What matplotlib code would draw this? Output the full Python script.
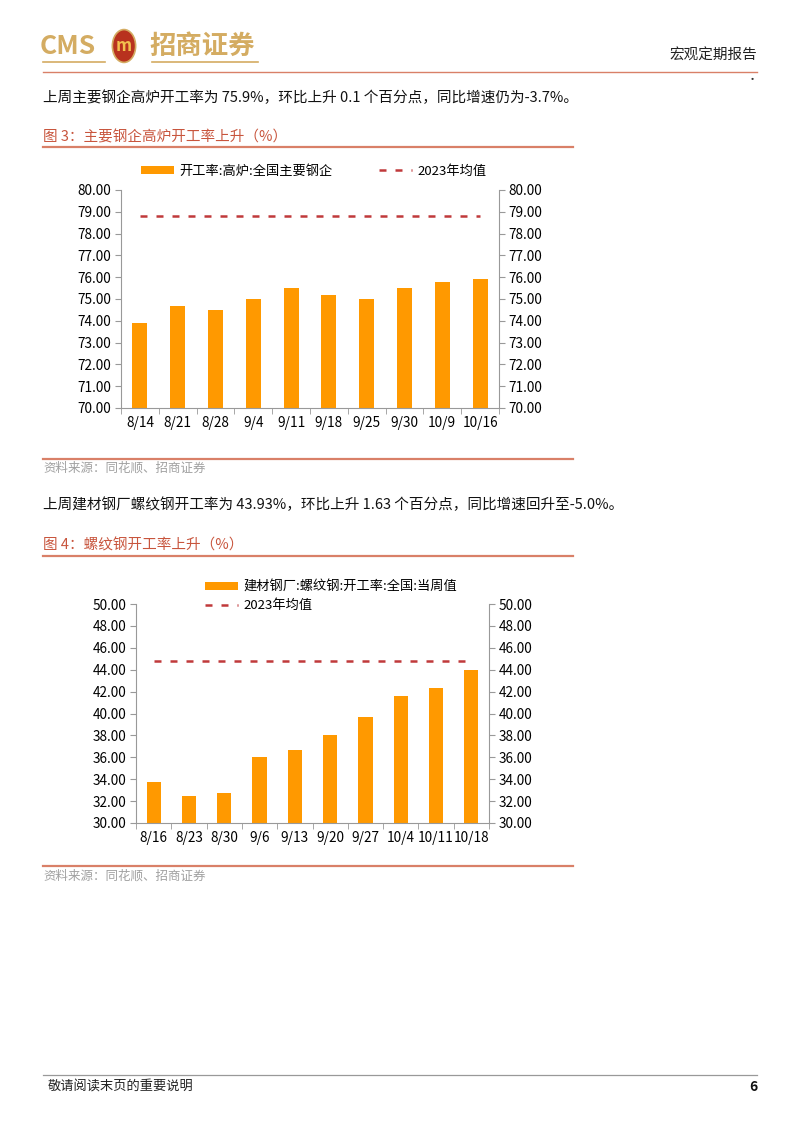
import matplotlib
matplotlib.use("Agg")
import matplotlib.pyplot as plt
from matplotlib.patches import Circle
from matplotlib.lines import Line2D

plt.rcParams['font.family'] = ['Noto Sans CJK SC', 'DejaVu Sans']

W, H = 802, 1133

# chart 3: blast furnace utilisation
dates1 = ["8/14", "8/21", "8/28", "9/4", "9/11", "9/18", "9/25", "9/30", "10/9", "10/16"]
rate1 = [73.9, 74.7, 74.5, 75.0, 75.5, 75.2, 75.0, 75.5, 75.8, 75.9]
avg1 = 78.8
label1 = "开工率:高炉:全国主要钢企"

# chart 4: rebar utilisation
dates2 = ["8/16", "8/23", "8/30", "9/6", "9/13", "9/20", "9/27", "10/4", "10/11", "10/18"]
rate2 = [33.76, 32.44, 32.78, 36.02, 36.69, 38.0, 39.65, 41.6, 42.3, 43.93]
avg2 = 44.8
label2 = "建材钢厂:螺纹钢:开工率:全国:当周值"
avg_label = "2023年均值"

BAR = "#FF9900"
DASH = "#C0393B"
TITLE = "#C8553D"
RULE = "#D98068"
GOLD = "#D4AC62"


def fx(px):
    return px / W


def fy(py):
    return 1 - py / H


def page_text(x, y, s, **kw):
    fig.text(fx(x), fy(y), s, va="center", **kw)


def hline(x0, x1, y, color, lw):
    fig.add_artist(Line2D([fx(x0), fx(x1)], [fy(y), fy(y)], color=color, lw=lw,
                          transform=fig.transFigure))


def bar_chart(rect, dates, vals, avg, ylim, step, label):
    ax = fig.add_axes(rect)
    x = list(range(len(dates)))
    bars = ax.bar(x, vals, width=0.4, color=BAR, label=label, zorder=2)
    line, = ax.plot(x, [avg] * len(x), color=DASH, lw=1.8, dashes=(2.8, 3.6),
                    label=avg_label, zorder=3)
    ax.set_xlim(-0.5, len(dates) - 0.5)
    ax.set_ylim(*ylim)
    ticks = [ylim[0] + i * step for i in range(int(round((ylim[1] - ylim[0]) / step)) + 1)]
    ax.set_yticks(ticks)
    ax.set_yticklabels([f"{t:.2f}" for t in ticks])
    ax.set_xticks(x)
    ax.set_xticklabels(dates)
    ax.set_xticks([i - 0.5 for i in range(len(dates) + 1)], minor=True)
    ax.tick_params(axis="x", which="major", length=0, pad=6, labelsize=9.8)
    ax.tick_params(axis="x", which="minor", length=4, color="#999999")
    ax.tick_params(axis="y", length=4, color="#999999", labelsize=9.8, pad=3)
    for s in ["top", "right"]:
        ax.spines[s].set_visible(False)
    for s in ["left", "bottom"]:
        ax.spines[s].set_color("#999999")
    ax2 = ax.twinx()
    ax2.set_ylim(*ylim)
    ax2.set_yticks(ticks)
    ax2.set_yticklabels([f"{t:.2f}" for t in ticks])
    ax2.tick_params(axis="y", length=4, color="#999999", labelsize=9.8, pad=3)
    for s in ["top", "left", "bottom"]:
        ax2.spines[s].set_visible(False)
    ax2.spines["right"].set_color("#999999")
    return ax, [bars, line]


fig = plt.figure(figsize=(W / 100, H / 100), dpi=100)

# header
page_text(40, 47, "CMS", color=GOLD, fontsize=19, fontweight="bold")
fig.add_artist(Circle((fx(124), fy(46)), 0.0145, transform=fig.transFigure,
                      facecolor="#B8321E", edgecolor=GOLD, lw=1.2))
page_text(124, 46, "m", color="#F2C14E", fontsize=12, fontweight="bold", style="italic", ha="center")
page_text(149, 46, "招商证券", color=GOLD, fontsize=19, fontweight="bold")
hline(43, 105, 62, GOLD, 1.2)
hline(152, 258, 62, GOLD, 1.2)
page_text(757, 56, "宏观定期报告", color="#222222", fontsize=10.5, ha="right")
hline(43, 757, 72, RULE, 1.0)
page_text(752, 80, "·", color="#333333", fontsize=8, ha="center")

# chart 3 block
page_text(43, 98, "上周主要钢企高炉开工率为 75.9%，环比上升 0.1 个百分点，同比增速仍为-3.7%。",
          color="#111111", fontsize=10.5)
page_text(43, 137, "图 3：主要钢企高炉开工率上升（%）", color=TITLE, fontsize=10.5)
hline(43, 573, 147, RULE, 1.6)

ax1, h1 = bar_chart([fx(121), fy(408), fx(499) - fx(121), fy(190) - fy(408)],
                    dates1, rate1, avg1, (70, 80), 1, label1)
ax1.legend(h1, [label1, avg_label], loc="center", bbox_to_anchor=(fx(314), fy(171)),
           bbox_transform=fig.transFigure, ncol=2, frameon=False, fontsize=9.5,
           handlelength=2.5, handleheight=0.5, columnspacing=3.5, handletextpad=0.4)

hline(43, 573, 459, RULE, 1.6)
page_text(43, 468, "资料来源：同花顺、招商证券", color="#A0A0A0", fontsize=9)

# chart 4 block
page_text(43, 505, "上周建材钢厂螺纹钢开工率为 43.93%，环比上升 1.63 个百分点，同比增速回升至-5.0%。",
          color="#111111", fontsize=10.5)
page_text(43, 545, "图 4：螺纹钢开工率上升（%）", color=TITLE, fontsize=10.5)
hline(43, 573, 556, RULE, 1.6)

ax2, h2 = bar_chart([fx(136), fy(823), fx(489) - fx(136), fy(604) - fy(823)],
                    dates2, rate2, avg2, (30, 50), 2, label2)
ax2.legend(h2, [label2, avg_label], loc="upper left", bbox_to_anchor=(fx(193), fy(569)),
           bbox_transform=fig.transFigure, ncol=1, frameon=False, fontsize=9.5,
           handlelength=2.5, handleheight=0.5, handletextpad=0.4, labelspacing=0.4)

hline(43, 573, 866, RULE, 1.6)
page_text(43, 876, "资料来源：同花顺、招商证券", color="#A0A0A0", fontsize=9)

# footer
hline(43, 757, 1075, "#999999", 0.9)
page_text(48, 1087, "敬请阅读末页的重要说明", color="#222222", fontsize=9.5)
page_text(757, 1087, "6", color="#111111", fontsize=10, fontweight="bold", ha="right")

fig.savefig("out.png", dpi=100)
